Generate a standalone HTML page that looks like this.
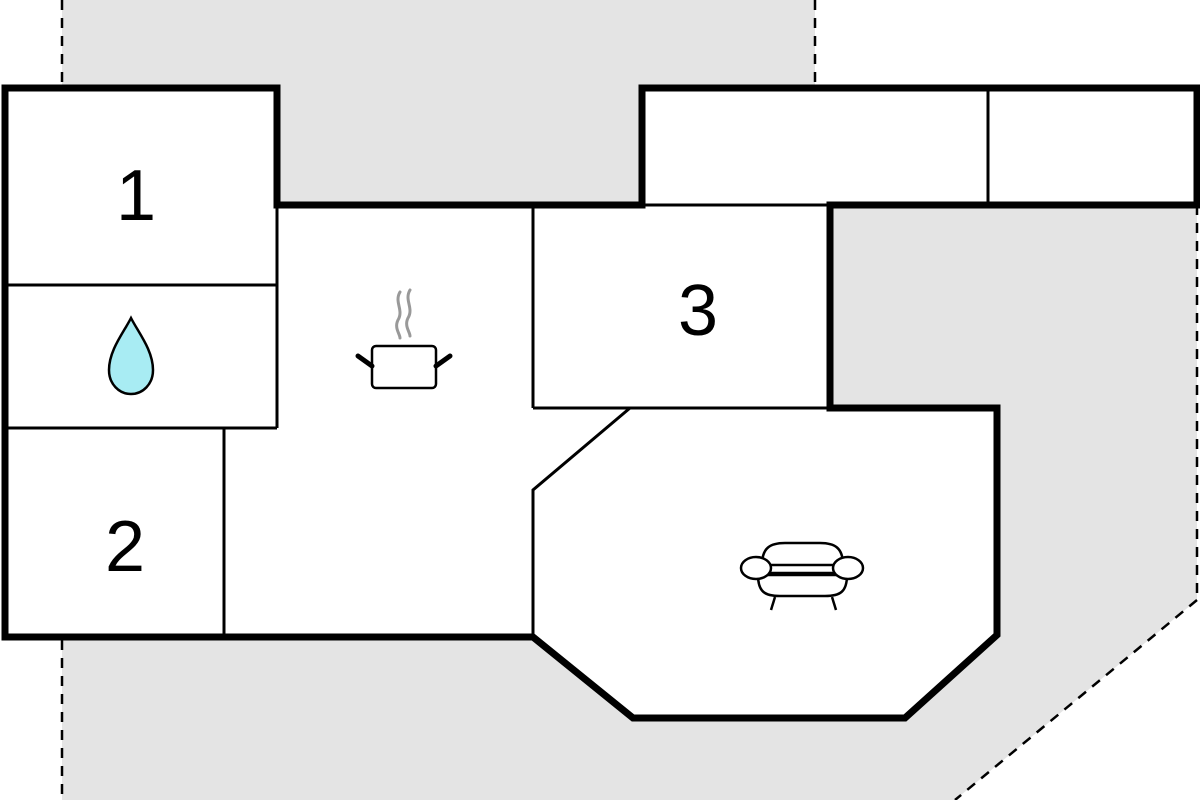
<!DOCTYPE html>
<html><head><style>body{margin:0;background:#fff}svg{display:block}</style></head><body>
<svg width="1200" height="800" viewBox="0 0 1200 800" xmlns="http://www.w3.org/2000/svg">
<polygon points="62,0 815,0 815,88 1197,88 1197,600 955,800 62,800" fill="#e4e4e4"/>
<g stroke="#000" stroke-width="2.5" stroke-dasharray="10,8" fill="none">
<line x1="62" y1="0" x2="62" y2="88"/><line x1="815" y1="0" x2="815" y2="88"/>
<line x1="62" y1="640" x2="62" y2="800"/><line x1="1197" y1="205" x2="1197" y2="600"/>
<line x1="1197" y1="600" x2="955" y2="800"/>
</g>
<polygon points="5,88 277,88 277,205 642,205 642,88 1197,88 1197,205 830,205 830,408 997,408 997,635 905,718 633,718 533,637 5,637" fill="#fff"/>
<g stroke="#000" stroke-width="3" fill="none">
<line x1="5" y1="285" x2="277" y2="285"/><line x1="5" y1="428" x2="277" y2="428"/>
<line x1="277" y1="205" x2="277" y2="428"/><line x1="224" y1="428" x2="224" y2="637"/>
<line x1="533" y1="205" x2="533" y2="408"/><line x1="533" y1="408" x2="830" y2="408"/>
<polyline points="630,408 533,490 533,637"/>
<line x1="988" y1="88" x2="988" y2="205"/><line x1="642" y1="205" x2="830" y2="205"/>
</g>
<polygon points="5,88 277,88 277,205 642,205 642,88 1197,88 1197,205 830,205 830,408 997,408 997,635 905,718 633,718 533,637 5,637" fill="none" stroke="#000" stroke-width="7"/>
<g font-family="Liberation Sans, sans-serif" font-size="72" text-anchor="middle">
<text x="136" y="220">1</text><text x="125" y="571">2</text><text x="698" y="335">3</text>
</g>
<path d="M131,318 C124,332 109,350 109,370 C109,384 119,394 131,394 C143,394 153,384 153,370 C153,350 138,332 131,318Z" fill="#a8ecf3" stroke="#000" stroke-width="2.5"/>
<g fill="none" stroke-linecap="round">
<path d="M400,292 C394,302 404,310 398,320 C394,328 400,334 400,338" stroke="#999" stroke-width="3"/>
<path d="M410,290 C404,300 414,308 408,318 C404,326 410,332 410,336" stroke="#999" stroke-width="3"/>
<rect x="372" y="346" width="64" height="42" rx="4" stroke="#000" stroke-width="2.5" fill="#fff"/>
<line x1="358" y1="356" x2="372" y2="366" stroke="#000" stroke-width="5"/>
<line x1="450" y1="356" x2="436" y2="366" stroke="#000" stroke-width="5"/>
</g>
<g fill="#fff" stroke="#000" stroke-width="2.5">
<path d="M762,565 C762,548 770,543 785,543 L820,543 C835,543 843,548 843,565 Z"/>
<path d="M758,575 C758,592 765,596 780,596 L825,596 C840,596 847,592 847,575 Z"/>
<line x1="765" y1="573" x2="840" y2="573"/>
<ellipse cx="756" cy="568" rx="15" ry="11"/>
<ellipse cx="848" cy="568" rx="15" ry="11"/>
<line x1="775" y1="597" x2="771" y2="610"/><line x1="832" y1="597" x2="836" y2="610"/>
</g>
</svg>
</body></html>
